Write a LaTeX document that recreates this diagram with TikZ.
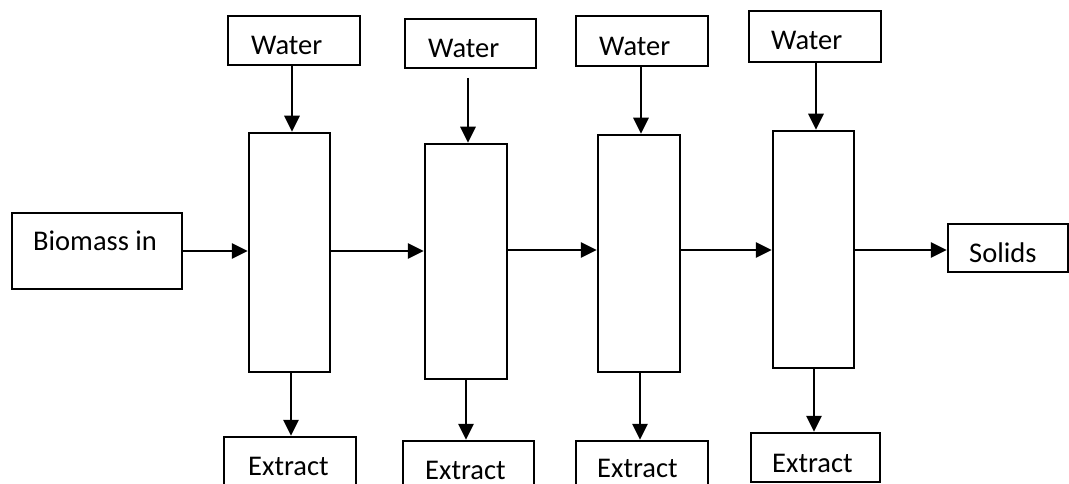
\documentclass[tikz,border=0pt]{standalone}
\usepackage{fontspec}
\setmainfont{Carlito}
\usetikzlibrary{arrows.meta}
\tikzset{
  box/.style={draw=black, line width=2.5pt, inner sep=0pt},
  lbl/.style={anchor=base west, inner sep=0pt, font=\fontsize{28.5}{32}\selectfont},
  flow/.style={line width=2.7pt, -{Triangle[length=16pt,width=15pt]}},
}
% draw an empty rectangle between two corners (x1,y1) and (x2,y2), y measured downwards
\newcommand{\boxat}[5]{%
  \node[box, minimum width={#4-#2}, minimum height={#5-#3}] (#1) at ({(#2+#4)/2},{(#3+#5)/2}) {};}
\begin{document}
\begin{tikzpicture}[x=1pt, y=-1pt]
\useasboundingbox (0,0) rectangle (1069,484);

% water feeds
\boxat{w1}{228}{16}{360}{65}
\boxat{w2}{405}{19}{536}{68}
\boxat{w3}{576}{16}{708}{66}
\boxat{w4}{749}{11}{881}{62}
\node[lbl] (tw1) at (251,55) {Water};
\node[lbl] (tw2) at (428,58) {Water};
\node[lbl] (tw3) at (599,56) {Water};
\node[lbl] (tw4) at (771,50) {Water};

% extraction stages
\boxat{c1}{249}{133}{330}{372}
\boxat{c2}{425}{144}{507}{379}
\boxat{c3}{598}{135}{680}{372}
\boxat{c4}{773}{131}{854}{368}

% feed and product
\boxat{bio}{12}{213}{182}{289}
\node[lbl] (tbio) at (33,251) {Biomass in};
\boxat{sol}{948}{224}{1068}{272}
\node[lbl] (tsol) at (969,262) {Solids};

% extract outlets
\boxat{e1}{224}{437}{356}{500}
\boxat{e2}{403}{441}{534}{500}
\boxat{e3}{576}{441}{708}{500}
\boxat{e4}{751}{433}{880}{482}
\node[lbl] (te1) at (248,475) {Extract};
\node[lbl] (te2) at (425,479) {Extract};
\node[lbl] (te3) at (597,477) {Extract};
\node[lbl] (te4) at (772,472) {Extract};

% water into each stage
\coordinate (a1) at (292,65);
\coordinate (a2) at (468,78);
\coordinate (a3) at (641,66);
\coordinate (a4) at (816,63);
\draw[flow] (a1) -- (a1 |- c1.north);
\draw[flow] (a2) -- (a2 |- c2.north);
\draw[flow] (a3) -- (a3 |- c3.north);
\draw[flow] (a4) -- (a4 |- c4.north);

% solids passing from stage to stage
\coordinate (h1) at (182,251);
\coordinate (h2) at (330,251);
\coordinate (h3) at (507,250);
\coordinate (h4) at (680,250);
\coordinate (h5) at (854,250);
\draw[flow] (h1) -- (h1 -| c1.west);
\draw[flow] (h2) -- (h2 -| c2.west);
\draw[flow] (h3) -- (h3 -| c3.west);
\draw[flow] (h4) -- (h4 -| c4.west);
\draw[flow] (h5) -- (h5 -| sol.west);

% extract leaving each stage
\coordinate (d1) at (291,372);
\coordinate (d2) at (466,379);
\coordinate (d3) at (640,372);
\coordinate (d4) at (814,368);
\draw[flow] (d1) -- (d1 |- e1.north);
\draw[flow] (d2) -- (d2 |- e2.north);
\draw[flow] (d3) -- (d3 |- e3.north);
\draw[flow] (d4) -- (d4 |- e4.north);
\end{tikzpicture}
\end{document}
